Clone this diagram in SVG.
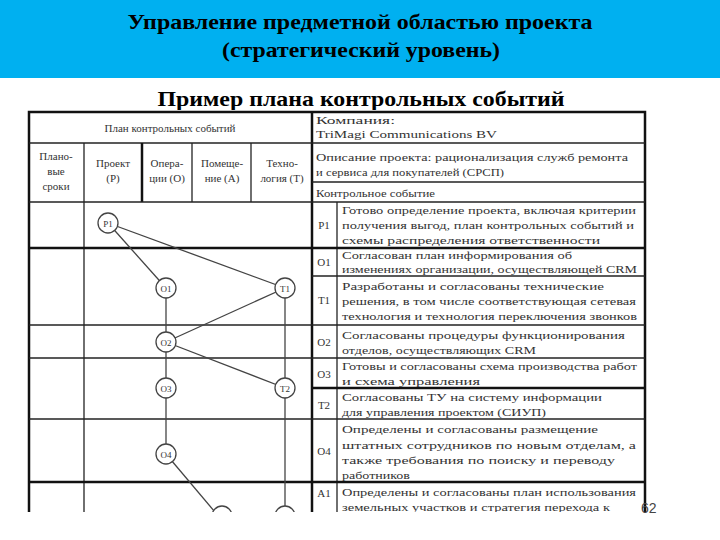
<svg xmlns="http://www.w3.org/2000/svg" width="720" height="540" viewBox="0 0 720 540">
<style>
.t{font-family:"Liberation Serif",serif;font-size:11px;fill:#333}
.c{text-anchor:middle}
.ln{stroke:#222;stroke-width:1.3;fill:none}
.tk{stroke:#111;stroke-width:2.5;fill:none}
.e{stroke:#444;stroke-width:1.3;fill:none}
.n circle{fill:#fff;stroke:#444;stroke-width:1.3}
.h{font-family:"Liberation Serif",serif;font-weight:bold;font-size:21px;fill:#000;text-anchor:middle}
</style>
<defs><clipPath id="cp"><rect x="20" y="108" width="635" height="404"/></clipPath></defs>
<rect x="0" y="0" width="720" height="540" fill="#fff"/>
<rect x="0" y="0" width="720" height="78" fill="#00b0f0"/>
<text class="h" x="360" y="29" textLength="465" lengthAdjust="spacingAndGlyphs">Управление предметной областью проекта</text>
<text class="h" x="361" y="57" textLength="278" lengthAdjust="spacingAndGlyphs">(стратегический уровень)</text>
<text class="h" x="361" y="106" textLength="407" lengthAdjust="spacingAndGlyphs">Пример плана контрольных событий</text>
<g clip-path="url(#cp)">
<rect x="28" y="110" width="622" height="410" fill="#fff"/>
<g id="grid">
<rect class="tk" x="29" y="112" width="616" height="420"/>
<line class="tk" x1="312" y1="112" x2="312" y2="530"/>
<line class="ln" x1="29" y1="143" x2="645" y2="143"/>
<line class="ln" x1="84" y1="143" x2="84" y2="530"/>
<line class="tk" x1="142" y1="143" x2="142" y2="202"/>
<line class="ln" x1="192" y1="143" x2="192" y2="202"/>
<line class="ln" x1="251" y1="143" x2="251" y2="202"/>
<line class="ln" x1="312" y1="182" x2="645" y2="182"/>
<line class="ln" x1="29" y1="202" x2="645" y2="202"/>
<line class="ln" x1="337" y1="202" x2="337" y2="530"/>
<line class="tk" x1="29" y1="248" x2="645" y2="248"/>
<line class="ln" x1="312" y1="276" x2="645" y2="276"/>
<line class="ln" x1="29" y1="325" x2="645" y2="325"/>
<line class="ln" x1="29" y1="358" x2="645" y2="358"/>
<line class="tk" x1="312" y1="388" x2="645" y2="388"/>
<line class="ln" x1="29" y1="419" x2="645" y2="419"/>
<line class="tk" x1="29" y1="482" x2="645" y2="482"/>
</g>
<g id="connectors">
<line class="e" x1="108" y1="223" x2="166" y2="288"/>
<line class="e" x1="108" y1="223" x2="285" y2="288"/>
<line class="e" x1="166" y1="288" x2="166" y2="454"/>
<line class="e" x1="285" y1="288" x2="166" y2="342"/>
<line class="e" x1="166" y1="342" x2="285" y2="388"/>
<line class="e" x1="285" y1="288" x2="285" y2="520" stroke="#777"/>
<line class="e" x1="166" y1="454" x2="220" y2="518"/>
</g>
<g id="P1" class="n"><circle cx="108" cy="223" r="10"/><text class="t c" x="108" y="227" style="font-size:9px">P1</text></g>
<g id="O1" class="n"><circle cx="166" cy="288" r="10"/><text class="t c" x="166" y="292" style="font-size:9px">O1</text></g>
<g id="T1" class="n"><circle cx="285" cy="288" r="10"/><text class="t c" x="285" y="292" style="font-size:9px">T1</text></g>
<g id="O2" class="n"><circle cx="166" cy="342" r="10"/><text class="t c" x="166" y="346" style="font-size:9px">O2</text></g>
<g id="O3" class="n"><circle cx="166" cy="388" r="10"/><text class="t c" x="166" y="392" style="font-size:9px">O3</text></g>
<g id="T2" class="n"><circle cx="285" cy="388" r="10"/><text class="t c" x="285" y="392" style="font-size:9px">T2</text></g>
<g id="O4" class="n"><circle cx="166" cy="454" r="10"/><text class="t c" x="166" y="458" style="font-size:9px">O4</text></g>
<g id="A1n" class="n"><circle cx="222" cy="516" r="10"/></g>
<g id="T3n" class="n"><circle cx="285" cy="516" r="10"/></g>
<g id="texts">
<text class="t c" x="170" y="132">План контрольных событий</text>
<text class="t c" x="56" y="160">Плано-</text><text class="t c" x="56" y="175">вые</text><text class="t c" x="56" y="190">сроки</text>
<text class="t c" x="113" y="167">Проект</text><text class="t c" x="113" y="182">(P)</text>
<text class="t c" x="167" y="167">Опера-</text><text class="t c" x="167" y="182">ции (O)</text>
<text class="t c" x="222" y="167">Помеще-</text><text class="t c" x="222" y="182">ние (A)</text>
<text class="t c" x="282" y="167">Техно-</text><text class="t c" x="282" y="182">логия (T)</text>
<text class="t" x="316" y="124" textLength="79" lengthAdjust="spacingAndGlyphs">Компания:</text>
<text class="t" x="316" y="138" textLength="181" lengthAdjust="spacingAndGlyphs">TriMagi Communications BV</text>
<text class="t" x="316" y="161" textLength="312" lengthAdjust="spacingAndGlyphs">Описание проекта: рационализация служб ремонта</text>
<text class="t" x="316" y="176" textLength="188" lengthAdjust="spacingAndGlyphs">и сервиса для покупателей (СРСП)</text>
<text class="t" x="316" y="197" textLength="119" lengthAdjust="spacingAndGlyphs">Контрольное событие</text>
<text class="t c" x="324" y="229">P1</text>
<text class="t c" x="324" y="266">O1</text>
<text class="t c" x="324" y="304">T1</text>
<text class="t c" x="324" y="346">O2</text>
<text class="t c" x="324" y="378">O3</text>
<text class="t c" x="324" y="409">T2</text>
<text class="t c" x="324" y="455">O4</text>
<text class="t c" x="324" y="497">A1</text>
<text class="t" x="342" y="214" textLength="294" lengthAdjust="spacingAndGlyphs">Готово определение проекта, включая критерии</text>
<text class="t" x="342" y="229" textLength="292" lengthAdjust="spacingAndGlyphs">получения выгод, план контрольных событий и</text>
<text class="t" x="342" y="244" textLength="258" lengthAdjust="spacingAndGlyphs">схемы распределения ответственности</text>
<text class="t" x="342" y="259" textLength="230" lengthAdjust="spacingAndGlyphs">Согласован план информирования об</text>
<text class="t" x="342" y="273" textLength="295" lengthAdjust="spacingAndGlyphs">изменениях организации, осуществляющей CRM</text>
<text class="t" x="342" y="290" textLength="262" lengthAdjust="spacingAndGlyphs">Разработаны и согласованы технические</text>
<text class="t" x="342" y="305" textLength="294" lengthAdjust="spacingAndGlyphs">решения, в том числе соответствующая сетевая</text>
<text class="t" x="342" y="320" textLength="295" lengthAdjust="spacingAndGlyphs">технология и технология переключения звонков</text>
<text class="t" x="342" y="339" textLength="283" lengthAdjust="spacingAndGlyphs">Согласованы процедуры функционирования</text>
<text class="t" x="342" y="354" textLength="194" lengthAdjust="spacingAndGlyphs">отделов, осуществляющих CRM</text>
<text class="t" x="342" y="370" textLength="295" lengthAdjust="spacingAndGlyphs">Готовы и согласованы схема производства работ</text>
<text class="t" x="342" y="385" textLength="138" lengthAdjust="spacingAndGlyphs">и схема управления</text>
<text class="t" x="342" y="401" textLength="260" lengthAdjust="spacingAndGlyphs">Согласованы ТУ на систему информации</text>
<text class="t" x="342" y="416" textLength="204" lengthAdjust="spacingAndGlyphs">для управления проектом (СИУП)</text>
<text class="t" x="342" y="433" textLength="256" lengthAdjust="spacingAndGlyphs">Определены и согласованы размещение</text>
<text class="t" x="342" y="449" textLength="294" lengthAdjust="spacingAndGlyphs">штатных сотрудников по новым отделам, а</text>
<text class="t" x="342" y="464" textLength="273" lengthAdjust="spacingAndGlyphs">также требования по поиску и переводу</text>
<text class="t" x="342" y="479" textLength="68" lengthAdjust="spacingAndGlyphs">работников</text>
<text class="t" x="342" y="496" textLength="294" lengthAdjust="spacingAndGlyphs">Определены и согласованы план использования</text>
<text class="t" x="342" y="511" textLength="268" lengthAdjust="spacingAndGlyphs">земельных участков и стратегия перехода к</text>
</g>
</g>
<text x="641" y="513" style="font-family:'Liberation Sans',sans-serif;font-size:14px;fill:#444">62</text>
</svg>
